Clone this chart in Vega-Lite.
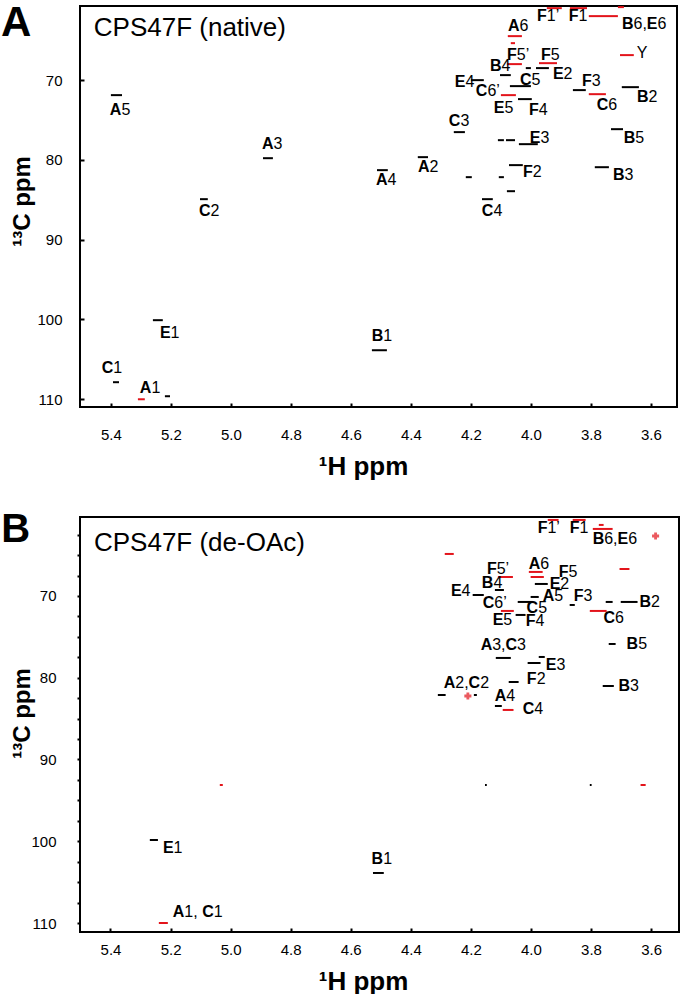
{
  "$schema": "https://vega.github.io/schema/vega-lite/v6.json",
  "padding": {"left": 0, "top": 0, "right": 2, "bottom": 0},
  "spacing": 110,
  "bounds": "flush",
  "datasets": {
    "peaksA": [
      {"h": 3.947, "h_end": 3.897, "c": 60.97, "phase": "CH2"},
      {"h": 3.870, "h_end": 3.813, "c": 60.97, "phase": "CH2"},
      {"h": 3.807, "h_end": 3.710, "c": 61.97, "phase": "CH2"},
      {"h": 3.710, "h_end": 3.690, "c": 60.84, "phase": "CH2"},
      {"h": 4.077, "h_end": 4.030, "c": 64.48, "phase": "CH2"},
      {"h": 4.067, "h_end": 4.053, "c": 65.36, "phase": "CH2"},
      {"h": 4.080, "h_end": 4.030, "c": 67.99, "phase": "CH2"},
      {"h": 3.973, "h_end": 3.913, "c": 67.87, "phase": "CH2"},
      {"h": 3.703, "h_end": 3.657, "c": 66.86, "phase": "CH2"},
      {"h": 3.983, "h_end": 3.940, "c": 68.49, "phase": "CH"},
      {"h": 4.017, "h_end": 4.000, "c": 68.49, "phase": "CH"},
      {"h": 4.103, "h_end": 4.067, "c": 69.37, "phase": "CH"},
      {"h": 4.200, "h_end": 4.157, "c": 70.00, "phase": "CH"},
      {"h": 4.070, "h_end": 4.000, "c": 70.75, "phase": "CH"},
      {"h": 4.100, "h_end": 4.050, "c": 71.88, "phase": "CH2"},
      {"h": 4.043, "h_end": 3.997, "c": 72.38, "phase": "CH"},
      {"h": 3.860, "h_end": 3.817, "c": 71.25, "phase": "CH"},
      {"h": 3.807, "h_end": 3.750, "c": 71.76, "phase": "CH2"},
      {"h": 3.697, "h_end": 3.640, "c": 70.88, "phase": "CH"},
      {"h": 3.733, "h_end": 3.693, "c": 76.15, "phase": "CH"},
      {"h": 4.257, "h_end": 4.220, "c": 76.52, "phase": "CH"},
      {"h": 4.110, "h_end": 4.090, "c": 77.53, "phase": "CH"},
      {"h": 4.083, "h_end": 4.053, "c": 77.53, "phase": "CH"},
      {"h": 4.040, "h_end": 3.977, "c": 78.03, "phase": "CH"},
      {"h": 4.073, "h_end": 4.027, "c": 80.66, "phase": "CH"},
      {"h": 3.787, "h_end": 3.740, "c": 80.92, "phase": "CH"},
      {"h": 4.377, "h_end": 4.343, "c": 79.66, "phase": "CH"},
      {"h": 4.513, "h_end": 4.477, "c": 81.29, "phase": "CH"},
      {"h": 4.217, "h_end": 4.197, "c": 82.17, "phase": "CH"},
      {"h": 4.107, "h_end": 4.090, "c": 82.17, "phase": "CH"},
      {"h": 4.080, "h_end": 4.053, "c": 83.93, "phase": "CH"},
      {"h": 4.163, "h_end": 4.127, "c": 84.93, "phase": "CH"},
      {"h": 5.400, "h_end": 5.363, "c": 71.88, "phase": "CH"},
      {"h": 4.893, "h_end": 4.860, "c": 79.79, "phase": "CH"},
      {"h": 5.103, "h_end": 5.077, "c": 84.93, "phase": "CH"},
      {"h": 5.260, "h_end": 5.227, "c": 100.11, "phase": "CH"},
      {"h": 5.393, "h_end": 5.373, "c": 107.89, "phase": "CH"},
      {"h": 5.310, "h_end": 5.287, "c": 110.03, "phase": "CH2"},
      {"h": 5.220, "h_end": 5.203, "c": 109.65, "phase": "CH"},
      {"h": 4.530, "h_end": 4.480, "c": 103.88, "phase": "CH"}
    ],
    "peaksB": [
      {"h": 3.944, "h_end": 3.908, "c": 60.70, "phase": "CH2"},
      {"h": 3.861, "h_end": 3.818, "c": 60.70, "phase": "CH2"},
      {"h": 3.794, "h_end": 3.728, "c": 61.80, "phase": "CH2"},
      {"h": 3.774, "h_end": 3.758, "c": 61.31, "phase": "CH2"},
      {"h": 4.287, "h_end": 4.257, "c": 64.86, "phase": "CH2"},
      {"h": 4.110, "h_end": 4.060, "c": 67.68, "phase": "CH2"},
      {"h": 4.007, "h_end": 3.961, "c": 67.06, "phase": "CH2"},
      {"h": 4.001, "h_end": 3.957, "c": 67.68, "phase": "CH2"},
      {"h": 3.705, "h_end": 3.672, "c": 66.70, "phase": "CH2"},
      {"h": 3.987, "h_end": 3.944, "c": 68.53, "phase": "CH"},
      {"h": 4.120, "h_end": 4.090, "c": 69.27, "phase": "CH"},
      {"h": 4.194, "h_end": 4.157, "c": 69.88, "phase": "CH"},
      {"h": 4.001, "h_end": 3.974, "c": 70.12, "phase": "CH"},
      {"h": 4.044, "h_end": 3.994, "c": 70.73, "phase": "CH"},
      {"h": 4.100, "h_end": 4.057, "c": 71.83, "phase": "CH2"},
      {"h": 4.051, "h_end": 4.018, "c": 72.32, "phase": "CH"},
      {"h": 3.871, "h_end": 3.854, "c": 71.10, "phase": "CH"},
      {"h": 3.804, "h_end": 3.748, "c": 71.83, "phase": "CH2"},
      {"h": 3.701, "h_end": 3.645, "c": 70.73, "phase": "CH"},
      {"h": 3.751, "h_end": 3.728, "c": 70.73, "phase": "CH"},
      {"h": 3.741, "h_end": 3.718, "c": 75.87, "phase": "CH"},
      {"h": 4.117, "h_end": 4.067, "c": 77.58, "phase": "CH"},
      {"h": 4.011, "h_end": 3.968, "c": 78.20, "phase": "CH"},
      {"h": 3.974, "h_end": 3.954, "c": 77.46, "phase": "CH"},
      {"h": 4.074, "h_end": 4.041, "c": 80.52, "phase": "CH"},
      {"h": 3.761, "h_end": 3.724, "c": 81.01, "phase": "CH"},
      {"h": 4.310, "h_end": 4.284, "c": 82.11, "phase": "CH"},
      {"h": 4.190, "h_end": 4.180, "c": 82.11, "phase": "CH"},
      {"h": 4.120, "h_end": 4.097, "c": 83.46, "phase": "CH"},
      {"h": 4.094, "h_end": 4.058, "c": 83.94, "phase": "CH2"},
      {"h": 5.269, "h_end": 5.242, "c": 99.85, "phase": "CH"},
      {"h": 5.239, "h_end": 5.209, "c": 110.00, "phase": "CH2"},
      {"h": 5.036, "h_end": 5.026, "c": 93.12, "phase": "CH2"},
      {"h": 4.153, "h_end": 4.147, "c": 93.12, "phase": "CH"},
      {"h": 3.804, "h_end": 3.798, "c": 93.12, "phase": "CH"},
      {"h": 3.635, "h_end": 3.618, "c": 93.12, "phase": "CH2"},
      {"h": 4.526, "h_end": 4.490, "c": 103.88, "phase": "CH"}
    ],
    "spotsB": [
      {"h": 4.210, "c": 82.23, "phase": "CH2"},
      {"h": 3.585, "c": 62.66, "phase": "CH2"}
    ],
    "labelsA": [
      {"res": "A", "num": "5", "h": 5.365, "c": 74.39},
      {"res": "A", "num": "3", "h": 4.858, "c": 78.66},
      {"res": "C", "num": "2", "h": 5.068, "c": 87.06},
      {"res": "E", "num": "1", "h": 5.201, "c": 102.37},
      {"res": "C", "num": "1", "h": 5.392, "c": 106.76},
      {"res": "A", "num": "1", "h": 5.265, "c": 109.27},
      {"res": "B", "num": "1", "h": 4.492, "c": 102.75},
      {"res": "A", "num": "6", "h": 4.038, "c": 63.85},
      {"res": "F", "num": "1’", "h": 3.947, "c": 62.60},
      {"res": "F", "num": "1", "h": 3.841, "c": 62.60},
      {"res": "B", "num": "6,", "h": 3.658, "c": 63.60},
      {"res": "E", "num": "6", "h": 3.578, "c": 63.60},
      {"res": "F", "num": "5’", "h": 4.047, "c": 67.49},
      {"res": "F", "num": "5", "h": 3.934, "c": 67.49},
      {"res": "", "num": "Y", "h": 3.647, "c": 67.24},
      {"res": "B", "num": "4", "h": 4.098, "c": 68.87},
      {"res": "E", "num": "2", "h": 3.891, "c": 69.87},
      {"res": "E", "num": "4", "h": 4.218, "c": 70.88},
      {"res": "C", "num": "5", "h": 3.998, "c": 70.63},
      {"res": "C", "num": "6’", "h": 4.145, "c": 72.01},
      {"res": "F", "num": "3", "h": 3.797, "c": 70.75},
      {"res": "B", "num": "2", "h": 3.608, "c": 72.76},
      {"res": "E", "num": "5", "h": 4.088, "c": 74.14},
      {"res": "F", "num": "4", "h": 3.974, "c": 74.39},
      {"res": "C", "num": "6", "h": 3.742, "c": 73.76},
      {"res": "C", "num": "3", "h": 4.235, "c": 75.77},
      {"res": "E", "num": "3", "h": 3.968, "c": 77.90},
      {"res": "B", "num": "5", "h": 3.652, "c": 77.90},
      {"res": "A", "num": "2", "h": 4.338, "c": 81.54},
      {"res": "F", "num": "2", "h": 3.994, "c": 82.17},
      {"res": "B", "num": "3", "h": 3.688, "c": 82.55},
      {"res": "A", "num": "4", "h": 4.478, "c": 83.17},
      {"res": "C", "num": "4", "h": 4.125, "c": 87.06}
    ],
    "labelsB": [
      {"res": "F", "num": "1’", "h": 3.945, "c": 62.29},
      {"res": "F", "num": "1", "h": 3.838, "c": 62.29},
      {"res": "B", "num": "6,", "h": 3.756, "c": 63.64},
      {"res": "E", "num": "6", "h": 3.676, "c": 63.64},
      {"res": "F", "num": "5’", "h": 4.114, "c": 67.31},
      {"res": "A", "num": "6", "h": 3.969, "c": 66.70},
      {"res": "F", "num": "5", "h": 3.875, "c": 67.68},
      {"res": "B", "num": "4", "h": 4.125, "c": 69.02},
      {"res": "E", "num": "2", "h": 3.902, "c": 69.14},
      {"res": "E", "num": "4", "h": 4.231, "c": 70.00},
      {"res": "A", "num": "5", "h": 3.922, "c": 70.61},
      {"res": "F", "num": "3", "h": 3.825, "c": 70.61},
      {"res": "B", "num": "2", "h": 3.600, "c": 71.35},
      {"res": "C", "num": "6’", "h": 4.122, "c": 71.47},
      {"res": "C", "num": "5", "h": 3.976, "c": 72.08},
      {"res": "E", "num": "5", "h": 4.092, "c": 73.55},
      {"res": "F", "num": "4", "h": 3.985, "c": 73.67},
      {"res": "C", "num": "6", "h": 3.720, "c": 73.30},
      {"res": "A", "num": "3,", "h": 4.129, "c": 76.61},
      {"res": "C", "num": "3", "h": 4.046, "c": 76.61},
      {"res": "B", "num": "5", "h": 3.643, "c": 76.48},
      {"res": "E", "num": "3", "h": 3.915, "c": 79.05},
      {"res": "F", "num": "2", "h": 3.981, "c": 80.76},
      {"res": "A", "num": "2,", "h": 4.252, "c": 81.25},
      {"res": "C", "num": "2", "h": 4.169, "c": 81.25},
      {"res": "B", "num": "3", "h": 3.670, "c": 81.62},
      {"res": "A", "num": "4", "h": 4.082, "c": 82.84},
      {"res": "C", "num": "4", "h": 3.989, "c": 84.43},
      {"res": "E", "num": "1", "h": 5.190, "c": 101.44},
      {"res": "A", "num": "1, ", "h": 5.154, "c": 109.27},
      {"res": "C", "num": "1", "h": 5.056, "c": 109.27},
      {"res": "B", "num": "1", "h": 4.492, "c": 102.78}
    ],
    "captions": [
      {"panel": "A", "text": "CPS47F (native)", "h": 5.457, "c": 64.48},
      {"panel": "B", "text": "CPS47F (de-OAc)", "h": 5.455, "c": 64.5}
    ],
    "panels": [
      {"panel": "A", "h": 5.766, "c": 64.46},
      {"panel": "B", "h": 5.764, "c": 63.40}
    ]
  },
  "vconcat": [
    {
      "width": 597,
      "height": 401,
      "encoding": {
        "x": {"field": "h", "type": "quantitative",
          "scale": {"domain": [3.513, 5.503], "reverse": true, "nice": false, "zero": false},
          "axis": {"values": [5.4, 5.2, 5.0, 4.8, 4.6, 4.4, 4.2, 4.0, 3.8, 3.6], "format": ".1f", "domain": false, "grid": false, "tickSize": -4, "tickWidth": 2, "tickColor": "black", "labelFont": "Liberation Sans", "labelFontSize": 15, "labelColor": "black", "labelPadding": 24, "labelFlush": false, "labelOverlap": false,
            "title": "¹H ppm", "titleFont": "Liberation Sans", "titleFontSize": 26, "titleFontWeight": "bold", "titleColor": "black", "titleX": 283, "titleY": 67, "titleAlign": "center", "titleBaseline": "alphabetic"}},
        "y": {"field": "c", "type": "quantitative",
          "scale": {"domain": [60.7, 111.0], "reverse": true, "nice": false, "zero": false},
          "axis": {"values": [70, 80, 90, 100, 110], "format": "d", "domain": false, "grid": false, "tickSize": -4, "tickWidth": 2, "tickColor": "black", "labelFont": "Liberation Sans", "labelFontSize": 15, "labelColor": "black", "labelPadding": 22, "labelOverlap": false, "labelFlush": false,
            "title": "¹³C ppm", "titleFont": "Liberation Sans", "titleFontSize": 24, "titleFontWeight": "bold", "titleColor": "black", "titleX": -51, "titleY": 195, "titleAngle": 270, "titleAlign": "center", "titleBaseline": "alphabetic"}}
      },
      "layer": [
        {"data": {"name": "peaksA"}, "mark": {"type": "rule", "strokeWidth": 2, "clip": false},
          "encoding": {"x2": {"field": "h_end"}, "color": {"field": "phase", "type": "nominal", "scale": {"domain": ["CH", "CH2"], "range": ["#000000", "#e3141b"]}, "legend": null}}},
        {"data": {"name": "labelsA"}, "mark": {"type": "text", "align": "right", "baseline": "alphabetic", "font": "Liberation Sans", "fontSize": 16, "fontWeight": "bold", "color": "black"},
          "encoding": {"text": {"field": "res"}}},
        {"data": {"name": "labelsA"}, "mark": {"type": "text", "align": "left", "baseline": "alphabetic", "font": "Liberation Sans", "fontSize": 16, "color": "black"},
          "encoding": {"text": {"field": "num"}}},
        {"data": {"name": "captions"}, "transform": [{"filter": "datum.panel == 'A'"}], "mark": {"type": "text", "align": "left", "baseline": "alphabetic", "font": "Liberation Sans", "fontSize": 26, "color": "black"},
          "encoding": {"text": {"field": "text"}}},
        {"data": {"name": "panels"}, "transform": [{"filter": "datum.panel == 'A'"}], "mark": {"type": "text", "align": "left", "baseline": "alphabetic", "font": "Liberation Sans", "fontSize": 42, "fontWeight": "bold", "color": "black", "clip": false},
          "encoding": {"text": {"field": "panel"}}}
      ]
    },
    {
      "width": 599,
      "height": 415,
      "encoding": {
        "x": {"field": "h", "type": "quantitative",
          "scale": {"domain": [3.507, 5.5015], "reverse": true, "nice": false, "zero": false},
          "axis": {"values": [5.4, 5.2, 5.0, 4.8, 4.6, 4.4, 4.2, 4.0, 3.8, 3.6], "format": ".1f", "domain": false, "grid": false, "tickSize": -4, "tickWidth": 2, "tickColor": "black", "labelFont": "Liberation Sans", "labelFontSize": 15, "labelColor": "black", "labelPadding": 14, "labelFlush": false, "labelOverlap": false,
            "title": "¹H ppm", "titleFont": "Liberation Sans", "titleFontSize": 26, "titleFontWeight": "bold", "titleColor": "black", "titleX": 283, "titleY": 57, "titleAlign": "center", "titleBaseline": "alphabetic"}},
        "y": {"field": "c", "type": "quantitative",
          "scale": {"domain": [60.34, 111.1], "reverse": true, "nice": false, "zero": false},
          "axis": {"values": [62.5, 65, 67.5, 70, 72.5, 75, 77.5, 80, 82.5, 85, 87.5, 90, 92.5, 95, 97.5, 100, 102.5, 105, 107.5, 110], "labelExpr": "datum.value % 10 === 0 ? format(datum.value, 'd') : ''", "domain": false, "grid": false, "tickSize": 3, "tickWidth": 2, "tickColor": "black", "labelFont": "Liberation Sans", "labelFontSize": 15, "labelColor": "black", "labelPadding": 21, "labelOverlap": false, "labelFlush": false,
            "title": "¹³C ppm", "titleFont": "Liberation Sans", "titleFontSize": 24, "titleFontWeight": "bold", "titleColor": "black", "titleX": -51, "titleY": 196, "titleAngle": 270, "titleAlign": "center", "titleBaseline": "alphabetic"}}
      },
      "layer": [
        {"data": {"name": "peaksB"}, "mark": {"type": "rule", "strokeWidth": 2, "clip": false},
          "encoding": {"x2": {"field": "h_end"}, "color": {"field": "phase", "type": "nominal", "scale": {"domain": ["CH", "CH2"], "range": ["#000000", "#e3141b"]}, "legend": null}}},
        {"data": {"name": "spotsB"}, "mark": {"type": "point", "shape": "cross", "filled": true, "size": 50},
          "encoding": {"color": {"field": "phase", "type": "nominal", "scale": {"domain": ["CH", "CH2"], "range": ["#000000", "#e3141b"]}, "legend": null}}},
        {"data": {"name": "labelsB"}, "mark": {"type": "text", "align": "right", "baseline": "alphabetic", "font": "Liberation Sans", "fontSize": 16, "fontWeight": "bold", "color": "black"},
          "encoding": {"text": {"field": "res"}}},
        {"data": {"name": "labelsB"}, "mark": {"type": "text", "align": "left", "baseline": "alphabetic", "font": "Liberation Sans", "fontSize": 16, "color": "black"},
          "encoding": {"text": {"field": "num"}}},
        {"data": {"name": "captions"}, "transform": [{"filter": "datum.panel == 'B'"}], "mark": {"type": "text", "align": "left", "baseline": "alphabetic", "font": "Liberation Sans", "fontSize": 26, "color": "black"},
          "encoding": {"text": {"field": "text"}}},
        {"data": {"name": "panels"}, "transform": [{"filter": "datum.panel == 'B'"}], "mark": {"type": "text", "align": "left", "baseline": "alphabetic", "font": "Liberation Sans", "fontSize": 40, "fontWeight": "bold", "color": "black", "clip": false},
          "encoding": {"text": {"field": "panel"}}}
      ]
    }
  ],
  "resolve": {"scale": {"x": "independent", "y": "independent"}},
  "config": {
    "view": {"stroke": "black", "strokeWidth": 2},
    "font": "Liberation Sans"
  }
}
